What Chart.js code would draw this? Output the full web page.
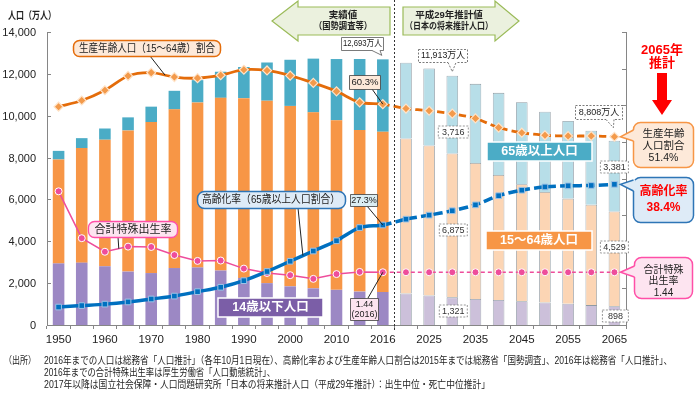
<!DOCTYPE html>
<html>
<head>
<meta charset="utf-8">
<script src="https://cdn.jsdelivr.net/npm/chart.js@4.4.1/dist/chart.umd.min.js"></script>
<style>
html,body{margin:0;padding:0;background:#fff}
#wrap{width:700px;height:396px;position:relative}
</style>
</head>
<body>
<div id="wrap"><canvas id="c" width="700" height="396"></canvas></div>
<script>
// population in 10,000 persons, ratios in %
const years = ['1950','1955','1960','1965','1970','1975','1980','1985','1990','1995','2000','2005','2010','2015','2016',
  '2020','2025','2030','2035','2040','2045','2050','2055','2060','2065'];
const kids     = [2943,2980,2807,2553,2482,2722,2751,2603,2249,2001,1847,1752,1680,1595,1578, 1507,1407,1321,1246,1194,1138,1077,1012,951,898];
const working  = [4966,5473,6047,6744,7212,7581,7883,8251,8590,8716,8622,8409,8103,7728,7656, 7406,7170,6875,6494,5978,5584,5275,5028,4793,4529];
const elderly  = [411,475,535,624,739,887,1065,1247,1489,1826,2204,2567,2925,3387,3459, 3619,3677,3716,3782,3921,3919,3841,3704,3540,3381];
const totals   = [8320,8928,9342,9828,10372,11194,11706,12105,12361,12557,12693,12777,12806,12709,12693, 12532,12254,11913,11522,11092,10642,10192,9744,9284,8808];
const agingRate    = [4.9,5.3,5.7,6.3,7.1,7.9,9.1,10.3,12.1,14.6,17.4,20.2,23.0,26.6,27.3, 28.9,30.0,31.2,32.8,35.3,36.8,37.7,38.0,38.1,38.4];
const workingRatio = [59.6,61.3,64.1,68.0,68.9,67.7,67.4,68.2,69.7,69.5,68.1,66.1,63.8,60.8,60.3, 59.1,58.5,57.7,56.4,53.9,52.5,51.8,51.6,51.6,51.4];
const fertility    = [3.65,2.37,2.00,2.14,2.13,1.91,1.75,1.76,1.54,1.42,1.36,1.26,1.39,1.45,1.44, 1.44,1.44,1.44,1.44,1.44,1.44,1.44,1.44,1.44,1.44];
const PROJ = 15; // first projected year index

const JP = "'Liberation Sans','Noto Sans CJK JP',sans-serif";
const fmt = v => v.toLocaleString('en-US');
const i2016 = years.indexOf('2016'), i2030 = years.indexOf('2030'), i2065 = years.indexOf('2065');

function txt(ctx, s, x, y, size, color, o = {}) {
  ctx.save();
  ctx.font = (o.bold ? 'bold ' : '') + size + 'px ' + JP;
  ctx.fillStyle = color; ctx.textAlign = o.align || 'center'; ctx.textBaseline = 'middle';
  if (o.max) ctx.fillText(s, x, y, o.max); else ctx.fillText(s, x, y);
  ctx.restore();
}
function rbox(ctx, x, y, w, h, r, fill, stroke, lw, dash) {
  ctx.save();
  ctx.beginPath(); ctx.roundRect(x, y, w, h, r);
  if (fill) { ctx.fillStyle = fill; ctx.fill(); }
  if (stroke) { ctx.strokeStyle = stroke; ctx.lineWidth = lw || 1; ctx.setLineDash(dash || []); ctx.stroke(); }
  ctx.restore();
}
function tail(ctx, a, b, tip, inw, fill, stroke, lw, dash) {
  ctx.save();
  ctx.beginPath();
  ctx.moveTo(a[0] + inw[0], a[1] + inw[1]); ctx.lineTo(a[0], a[1]); ctx.lineTo(tip[0], tip[1]);
  ctx.lineTo(b[0], b[1]); ctx.lineTo(b[0] + inw[0], b[1] + inw[1]); ctx.closePath();
  ctx.fillStyle = fill; ctx.fill();
  ctx.beginPath(); ctx.moveTo(a[0], a[1]); ctx.lineTo(tip[0], tip[1]); ctx.lineTo(b[0], b[1]);
  ctx.strokeStyle = stroke; ctx.lineWidth = lw; ctx.setLineDash(dash || []); ctx.stroke();
  ctx.restore();
}
function leader(ctx, x1, y1, x2, y2) {
  ctx.save(); ctx.beginPath(); ctx.moveTo(x1, y1); ctx.lineTo(x2, y2);
  ctx.strokeStyle = '#222'; ctx.lineWidth = 1; ctx.stroke(); ctx.restore();
}
function greenArrow(ctx, bodyL, bodyR, tipX, dir) {
  const bt = 7, bb = 35, ht = 1, hb = 41, my = 21;
  ctx.save(); ctx.beginPath();
  if (dir < 0) {
    ctx.moveTo(tipX, my); ctx.lineTo(bodyL, ht); ctx.lineTo(bodyL, bt); ctx.lineTo(bodyR, bt);
    ctx.lineTo(bodyR, bb); ctx.lineTo(bodyL, bb); ctx.lineTo(bodyL, hb);
  } else {
    ctx.moveTo(tipX, my); ctx.lineTo(bodyR, ht); ctx.lineTo(bodyR, bt); ctx.lineTo(bodyL, bt);
    ctx.lineTo(bodyL, bb); ctx.lineTo(bodyR, bb); ctx.lineTo(bodyR, hb);
  }
  ctx.closePath();
  ctx.fillStyle = '#ebf1de'; ctx.fill();
  ctx.strokeStyle = '#9bbb59'; ctx.lineWidth = 1.2; ctx.stroke();
  ctx.restore();
}
function numBox(ctx, s, cx, cy, w) {
  rbox(ctx, cx - w / 2, cy - 6, w, 12, 0, '#fff', '#7f7f7f', 0.8, [2, 1.5]);
  txt(ctx, s, cx, cy + 0.5, 9, '#333');
}

const annotations = {
  id: 'annotations',
  afterDatasetsDraw(chart) {
    const ctx = chart.ctx, s = chart.scales;
    const X = i => s.x.getPixelForValue(i);
    const YL = v => s.y.getPixelForValue(v);
    const YR = v => s.y2.getPixelForValue(v);
    const YF = v => s.y3.getPixelForValue(v);
    const a = chart.chartArea;

    // left tick labels and inward tick marks on both value axes
    ctx.save(); ctx.strokeStyle = '#868686'; ctx.lineWidth = 1;
    s.y.ticks.forEach(t => {
      const y = Math.round(YL(t.value)) + 0.5;
      ctx.beginPath(); ctx.moveTo(a.left, y); ctx.lineTo(a.left + 4, y); ctx.stroke();
      txt(ctx, fmt(t.value), 36, y, 11, '#222', { align: 'right' });
    });
    s.y2.ticks.forEach(t => { const y = Math.round(YR(t.value)) + 0.5; ctx.beginPath(); ctx.moveTo(a.right - 4, y); ctx.lineTo(a.right, y); ctx.stroke(); });
    ctx.restore();

    // divider between actual and projected
    const xd = Math.round((X(i2016) + X(PROJ)) / 2) + 0.5;
    ctx.save(); ctx.beginPath(); ctx.moveTo(xd, 0); ctx.lineTo(xd, a.bottom + 7);
    ctx.strokeStyle = '#333'; ctx.lineWidth = 1; ctx.setLineDash([2, 2]); ctx.stroke(); ctx.restore();

    // axis title
    txt(ctx, '人口（万人）', 8, 16, 10.5, '#222', { align: 'left', bold: true, max: 48 });

    // header arrows
    greenArrow(ctx, 298, 390, 272, -1);
    txt(ctx, '実績値', 343, 15, 9.5, '#222', { bold: true });
    txt(ctx, '（国勢調査等）', 343, 26.5, 9.5, '#222', { bold: true, max: 58 });
    greenArrow(ctx, 403, 495, 519, 1);
    txt(ctx, '平成29年推計値', 449, 15, 9.5, '#222', { bold: true });
    txt(ctx, '（日本の将来推計人口）', 449, 26.5, 9.5, '#222', { bold: true, max: 88 });

    // productive-age ratio label
    const wx = X(4) + (X(5) - X(4)) * 0.6, wy = YR(workingRatio[4] + (workingRatio[5] - workingRatio[4]) * 0.6);
    leader(ctx, 150, 56, wx, wy);
    rbox(ctx, 73.5, 40.5, 147, 16, 6, '#fde9d9', '#e46c0a', 1.5);
    txt(ctx, '生産年齢人口（15～64歳）割合', 147, 48.5, 11, '#222', { max: 136 });

    // aging-rate label
    const ax = X(10) + (X(11) - X(10)) * 0.55, ay = YR(agingRate[10] + (agingRate[11] - agingRate[10]) * 0.55);
    leader(ctx, 298, 208, ax, ay);
    rbox(ctx, 197.5, 191.5, 148, 17, 7, '#deebf7', '#2e75b6', 1.5);
    txt(ctx, '高齢化率（65歳以上人口割合）', 271, 200, 11, '#222', { max: 138 });

    // fertility label
    const fx = X(2) + (X(3) - X(2)) * 0.6, fy = YF(fertility[2] + (fertility[3] - fertility[2]) * 0.6);
    leader(ctx, 118, 237, fx, fy);
    rbox(ctx, 88.5, 221.5, 89, 16, 6, '#fde4f0', '#ff4fa7', 1.3);
    txt(ctx, '合計特殊出生率', 133, 229.5, 11, '#222', { max: 80 });

    // 2016 values
    const x16 = X(i2016);
    leader(ctx, 372, 89, x16, YR(workingRatio[i2016]));
    rbox(ctx, 349.5, 75.5, 31, 14, 0, '#fde9d9', '#404040', 0.8);
    txt(ctx, workingRatio[i2016].toFixed(1) + '%', 365, 82.5, 9.5, '#222');
    leader(ctx, 367, 206, x16, YR(agingRate[i2016]));
    rbox(ctx, 350.5, 194.5, 27, 12, 0, '#dbeef4', '#404040', 0.8);
    txt(ctx, agingRate[i2016].toFixed(1) + '%', 364, 200.5, 9, '#222');
    leader(ctx, 368, 298, x16, YF(fertility[i2016]));
    rbox(ctx, 350.5, 298.5, 28, 22, 0, '#fde4f0', '#404040', 0.8);
    txt(ctx, fertility[i2016].toFixed(2), 364.5, 304.5, 9, '#222');
    txt(ctx, '(' + years[i2016] + ')', 364.5, 314.5, 9, '#222');

    // total callouts
    rbox(ctx, 341.5, 37.5, 42, 13, 0, '#fff', '#595959', 0.8);
    tail(ctx, [372, 50.5], [380, 50.5], [x16 - 1, YL(totals[i2016]) - 4], [0, -2], '#fff', '#595959', 0.8);
    txt(ctx, fmt(totals[i2016]) + '万人', 362.5, 44, 9, '#222', { max: 39 });
    const x30 = X(i2030);
    rbox(ctx, 418.5, 49.5, 49, 13, 0, '#fff', '#595959', 0.8, [2, 1.5]);
    tail(ctx, [448, 62.5], [456, 62.5], [x30, YL(totals[i2030]) - 4], [0, -2], '#fff', '#595959', 0.8, [2, 1.5]);
    txt(ctx, fmt(totals[i2030]) + '万人', 443, 56, 9, '#222', { max: 44 });
    const x65 = X(i2065);
    rbox(ctx, 575.5, 105.5, 47, 14, 0, '#fff', '#595959', 0.8, [2, 1.5]);
    tail(ctx, [606, 119.5], [614, 119.5], [x65 - 1, YR(workingRatio[i2065]) - 9], [0, -2], '#fff', '#595959', 0.8, [2, 1.5]);
    txt(ctx, fmt(totals[i2065]) + '万人', 599, 112.5, 9, '#222', { max: 43 });

    // segment values
    numBox(ctx, fmt(elderly[i2030]), x30 + 1, 132, 30);
    numBox(ctx, fmt(working[i2030]), x30 + 1, 230, 28);
    numBox(ctx, fmt(kids[i2030]), x30 + 1, 311, 28);
    numBox(ctx, fmt(elderly[i2065]), x65, 167, 28);
    numBox(ctx, fmt(working[i2065]), x65, 247, 28);
    numBox(ctx, fmt(kids[i2065]), x65 + 1, 316, 26);

    // age group tags
    rbox(ctx, 487, 142, 105, 19, 0, '#4bacc6', '#fff', 1.5);
    txt(ctx, '65歳以上人口', 539.5, 151.5, 12.5, '#fff', { bold: true });
    rbox(ctx, 486, 231, 106, 19, 0, '#f79646', '#fff', 1.5);
    txt(ctx, '15～64歳人口', 539, 240.5, 12.5, '#fff', { bold: true });
    rbox(ctx, 218, 298, 105, 19, 0, '#7b5ea7', '#fff', 1.5);
    txt(ctx, '14歳以下人口', 270.5, 307.5, 12.5, '#fff', { bold: true });

    // 2065 headline
    txt(ctx, '2065年', 662, 50, 13, '#ff0000', { bold: true });
    txt(ctx, '推計', 662, 63, 13, '#ff0000', { bold: true });
    ctx.save(); ctx.beginPath();
    ctx.moveTo(657, 73); ctx.lineTo(667, 73); ctx.lineTo(667, 100); ctx.lineTo(672, 100);
    ctx.lineTo(662, 115); ctx.lineTo(652, 100); ctx.lineTo(657, 100); ctx.closePath();
    ctx.fillStyle = '#ff0000'; ctx.fill(); ctx.restore();

    // right-side callouts
    const tipX = x65 + 6;
    rbox(ctx, 633.5, 122.5, 60, 45, 7, '#fde9d9', '#f79646', 1.5);
    tail(ctx, [633.5, 130], [633.5, 141], [tipX, YR(workingRatio[i2065])], [2, 0], '#fde9d9', '#f79646', 1.5);
    txt(ctx, '生産年齢', 663.5, 134, 10.5, '#222');
    txt(ctx, '人口割合', 663.5, 146, 10.5, '#222');
    txt(ctx, workingRatio[i2065].toFixed(1) + '%', 663.5, 158, 10.5, '#222');

    rbox(ctx, 633.5, 177.5, 60, 45, 7, '#deebf7', '#2e75b6', 1.5);
    tail(ctx, [633.5, 180], [633.5, 191], [tipX, YR(agingRate[i2065])], [2, 0], '#deebf7', '#2e75b6', 1.5);
    txt(ctx, '高齢化率', 663.5, 192, 12, '#ff0000', { bold: true, max: 48 });
    txt(ctx, agingRate[i2065].toFixed(1) + '%', 663.5, 208, 12, '#ff0000', { bold: true });

    rbox(ctx, 634.5, 257.5, 58, 41, 7, '#fde4f0', '#ff4fa7', 1.5);
    tail(ctx, [634.5, 266], [634.5, 277], [tipX, YF(fertility[i2065])], [2, 0], '#fde4f0', '#ff4fa7', 1.5);
    txt(ctx, '合計特殊', 663.5, 270, 10, '#222');
    txt(ctx, '出生率', 663.5, 281.5, 10, '#222');
    txt(ctx, fertility[i2065].toFixed(2), 663.5, 293, 10, '#222');

    // source note
    txt(ctx, '（出所）', 4, 361, 10, '#222', { align: 'left', max: 32 });
    txt(ctx, '2016年までの人口は総務省「人口推計」（各年10月1日現在）、高齢化率および生産年齢人口割合は2015年までは総務省「国勢調査」、2016年は総務省「人口推計」、', 44, 361, 10, '#222', { align: 'left', max: 628 });
    txt(ctx, '2016年までの合計特殊出生率は厚生労働省「人口動態統計」、', 44, 373, 10, '#222', { align: 'left', max: 231 });
    txt(ctx, '2017年以降は国立社会保障・人口問題研究所「日本の将来推計人口（平成29年推計）：出生中位・死亡中位推計」', 44, 385, 10, '#222', { align: 'left', max: 446 });
  }
};

const proj = (hist, fut) => c => c.dataIndex >= PROJ ? fut : hist;
const dashAfter = d => ({ borderDash: c => c.p0DataIndex >= i2016 ? d : undefined });

new Chart(document.getElementById('c'), {
  data: {
    labels: years,
    datasets: [
      { type: 'line', label: '生産年齢人口割合', data: workingRatio, yAxisID: 'y2', order: 0,
        borderColor: '#e46c0a', borderWidth: 2.8, tension: 0.3, segment: dashAfter([7, 4]),
        pointStyle: 'rectRot', pointRadius: 4.5, pointBackgroundColor: '#f39a4b', pointBorderColor: '#ffe3c8', pointBorderWidth: 1.2 },
      { type: 'line', label: '高齢化率', data: agingRate, yAxisID: 'y2', order: 0,
        borderColor: '#0070c0', borderWidth: 3.5, tension: 0.3, segment: dashAfter([9, 4]),
        pointStyle: 'rect', pointRadius: 4, pointBackgroundColor: '#0070c0', pointBorderColor: '#9dc3e6', pointBorderWidth: 1 },
      { type: 'line', label: '合計特殊出生率', data: fertility, yAxisID: 'y3', order: 0,
        borderColor: '#ee4d9b', borderWidth: 1.5, tension: 0, segment: dashAfter([4, 3]),
        pointStyle: 'circle', pointRadius: 3.5, pointBackgroundColor: '#ee4d9b', pointBorderColor: '#fff', pointBorderWidth: 1 },
      { type: 'bar', label: '14歳以下人口', data: kids, yAxisID: 'y', order: 1,
        backgroundColor: proj('#9c88c4', '#ccc0da'), borderColor: '#8f9aa3', borderWidth: proj(0, 0.8),
        barPercentage: 0.5, categoryPercentage: 1 },
      { type: 'bar', label: '15～64歳人口', data: working, yAxisID: 'y', order: 1,
        backgroundColor: proj('#f79646', '#fcd5b4'), borderColor: '#8f9aa3', borderWidth: proj(0, 0.8),
        barPercentage: 0.5, categoryPercentage: 1 },
      { type: 'bar', label: '65歳以上人口', data: elderly, yAxisID: 'y', order: 1,
        backgroundColor: proj('#4bacc6', '#b7dee8'), borderColor: '#8f9aa3', borderWidth: proj(0, 0.8),
        barPercentage: 0.5, categoryPercentage: 1 }
    ]
  },
  options: {
    responsive: false, animation: false, devicePixelRatio: 1,
    layout: { padding: { top: 32, left: 0, right: 0, bottom: 0 } },
    plugins: { legend: { display: false }, tooltip: { enabled: false } },
    scales: {
      x: { stacked: true, offset: true,
        grid: { display: true, drawOnChartArea: false, drawTicks: true, tickLength: 4, offset: true, color: '#868686' },
        border: { display: true, color: '#868686' },
        ticks: { autoSkip: false, maxRotation: 0, padding: 4, color: '#222', font: { family: JP, size: 11.5 },
          callback: (v, i) => i % 2 === 0 ? years[i] : '' },
        afterFit: sc => { sc.height = 71; } },
      y: { stacked: true, min: 0, max: 14000, position: 'left',
        grid: { display: false }, border: { display: true, color: '#868686' },
        ticks: { stepSize: 2000, display: false },
        afterFit: sc => { sc.width = 47; } },
      y2: { min: 0, max: 80, position: 'right',
        grid: { display: false }, border: { display: true, color: '#868686' },
        ticks: { stepSize: 10, display: false },
        afterFit: sc => { sc.width = 74; } },
      y3: { min: 0, max: 8, display: false }
    }
  },
  plugins: [annotations]
});
</script>
</body>
</html>
